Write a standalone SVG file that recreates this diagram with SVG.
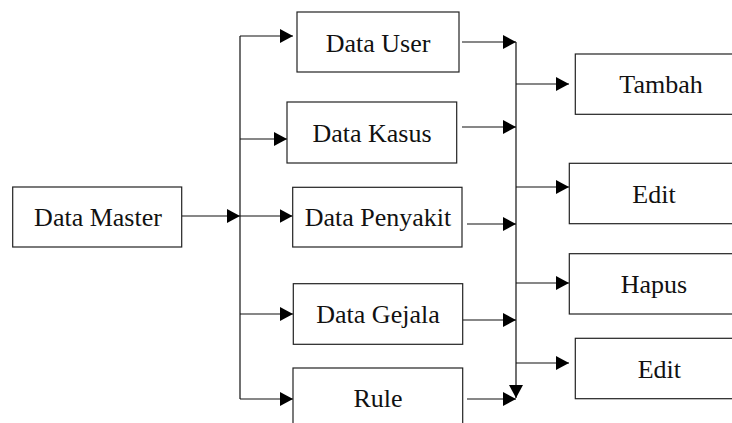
<svg xmlns="http://www.w3.org/2000/svg" width="732" height="423" viewBox="0 0 732 423">
<style>
.box{fill:#fff;stroke:#222;stroke-width:1.2}
.lbl{font-family:"Liberation Serif","Times New Roman",serif;font-size:26px;fill:#111;text-anchor:middle}
.ln{fill:none;stroke:#111;stroke-width:1.2}
</style>
<defs>
<marker id="ah" markerUnits="userSpaceOnUse" markerWidth="14" markerHeight="14" refX="13" refY="7" orient="auto">
<path d="M0,0 L13,7 L0,14 Z" fill="#000"/>
</marker>
</defs>
<rect width="732" height="423" fill="#fff"/>
<g id="connectors">
<line class="ln" x1="240" y1="36" x2="240" y2="399"/>
<line class="ln" x1="182" y1="216" x2="240" y2="216" marker-end="url(#ah)"/>
<line class="ln" x1="240" y1="36" x2="293" y2="36" marker-end="url(#ah)"/>
<line class="ln" x1="240" y1="139" x2="287" y2="139" marker-end="url(#ah)"/>
<line class="ln" x1="240" y1="216" x2="292.5" y2="216" marker-end="url(#ah)"/>
<line class="ln" x1="240" y1="314" x2="293" y2="314" marker-end="url(#ah)"/>
<line class="ln" x1="240" y1="399" x2="293" y2="399" marker-end="url(#ah)"/>
<line class="ln" x1="516" y1="42" x2="516" y2="398" marker-end="url(#ah)"/>
<line class="ln" x1="462" y1="42" x2="516" y2="42" marker-end="url(#ah)"/>
<line class="ln" x1="462" y1="127" x2="516" y2="127" marker-end="url(#ah)"/>
<line class="ln" x1="467" y1="224" x2="516" y2="224" marker-end="url(#ah)"/>
<line class="ln" x1="463" y1="320" x2="516" y2="320" marker-end="url(#ah)"/>
<line class="ln" x1="467" y1="399" x2="516" y2="399" marker-end="url(#ah)"/>
<line class="ln" x1="516" y1="84" x2="569" y2="84" marker-end="url(#ah)"/>
<line class="ln" x1="516" y1="187" x2="569" y2="187" marker-end="url(#ah)"/>
<line class="ln" x1="516" y1="283" x2="569" y2="283" marker-end="url(#ah)"/>
<line class="ln" x1="516" y1="363" x2="569" y2="363" marker-end="url(#ah)"/>
</g>
<g id="data-master"><rect class="box" x="12.7" y="187" width="169" height="60"/><text class="lbl" x="98" y="225.7">Data Master</text></g>
<g id="data-user"><rect class="box" x="297" y="12" width="162" height="60"/><text class="lbl" x="378" y="51.5">Data User</text></g>
<g id="data-kasus"><rect class="box" x="287" y="102" width="169.7" height="61"/><text class="lbl" x="372" y="141.5">Data Kasus</text></g>
<g id="data-penyakit"><rect class="box" x="292.7" y="187.3" width="169.3" height="59.7"/><text class="lbl" x="378" y="225.5">Data Penyakit</text></g>
<g id="data-gejala"><rect class="box" x="293.3" y="283.7" width="169.4" height="60.6"/><text class="lbl" x="378" y="323">Data Gejala</text></g>
<g id="rule"><rect class="box" x="293" y="368" width="169.7" height="62"/><text class="lbl" x="378" y="406.7">Rule</text></g>
<g id="tambah"><rect class="box" x="575.3" y="54" width="172" height="60.3"/><text class="lbl" x="661" y="93.3">Tambah</text></g>
<g id="edit-1"><rect class="box" x="569.3" y="163.3" width="170" height="60.4"/><text class="lbl" x="654" y="202.5">Edit</text></g>
<g id="hapus"><rect class="box" x="569.3" y="253.7" width="170" height="60.3"/><text class="lbl" x="654" y="292.5">Hapus</text></g>
<g id="edit-2"><rect class="box" x="575.3" y="338.3" width="168" height="60.4"/><text class="lbl" x="659.3" y="377.5">Edit</text></g>
</svg>
